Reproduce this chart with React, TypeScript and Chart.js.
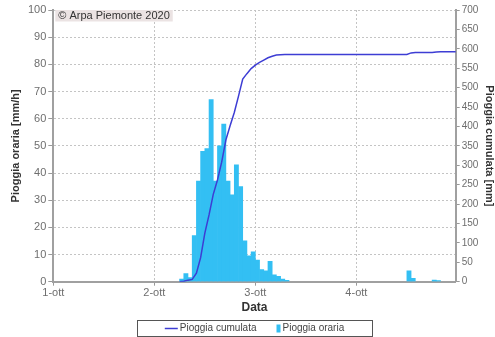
import React, { useEffect, useRef } from 'react';
import { Chart, registerables } from 'chart.js';

Chart.register(...registerables);

// ---- data (hours counted from 1-ott 00:00) ----
const dayTicks = [0, 24, 48, 72];
const dayLabels = ['1-ott', '2-ott', '3-ott', '4-ott'];
const xMax = 95.6;

// hourly rain: hour end time and value [mm/h]
const rainHours = [31, 32, 33, 34, 35, 36, 37, 38, 39, 40, 41, 42, 43, 44, 45, 46, 47, 48, 49, 50, 51, 52, 53, 54, 55, 56, 85, 86, 91, 92];
const rainValues = [1, 3, 1.5, 17, 37, 48, 49, 67, 37, 50, 58, 37, 32, 43, 35, 15, 9.5, 11, 8, 4.5, 4, 7.5, 2.5, 2, 1, 0.5, 4, 1.2, 0.6, 0.4];

// cumulated rain [mm]
const cumHours = [30, 31, 32, 33, 34, 35, 36, 37, 38, 39, 40, 41, 42, 43, 44, 45, 46, 47, 48, 49, 50, 51, 52, 53, 54, 55, 84, 85, 86, 90, 91, 92, 96];
const cumValues = [0, 1, 4, 6, 22, 62, 125, 172, 225, 262, 308, 365, 402, 436, 478, 522, 536, 549, 558, 565, 571, 577, 581, 584, 585, 585.5, 585.5, 589.5, 590.5, 590.5, 591.5, 592.5, 592.5];

const seriesLabels = ['Pioggia cumulata', 'Pioggia oraria'];
const leftTitle = 'Pioggia oraria [mm/h]';
const rightTitle = 'Pioggia cumulata [mm]';
const xTitle = 'Data';
const credit = '\u00A9 Arpa Piemonte 2020';

const FONT = '"Liberation Sans", Arial, sans-serif';
const LINE_COLOR = '#3d3dd4';
const BAR_COLOR = '#33bff3';

const creditPlugin = {
  id: 'creditBox',
  afterDatasetsDraw(chart: any) {
    const { ctx, chartArea } = chart;
    ctx.save();
    ctx.font = `11px ${FONT}`;
    const w = ctx.measureText(credit).width;
    ctx.fillStyle = '#ebe3e3';
    ctx.fillRect(chartArea.left + 2, chartArea.top, w + 6, 11.5);
    ctx.fillStyle = '#333333';
    ctx.textBaseline = 'middle';
    ctx.textAlign = 'left';
    ctx.fillText(credit, chartArea.left + 5, chartArea.top + 5.5);
    ctx.restore();
  },
};

const legendPlugin = {
  id: 'boxLegend',
  afterDraw(chart: any) {
    const { ctx, chartArea } = chart;
    const H = chart.height;
    const cx = (chartArea.left + chartArea.right) / 2;
    const boxW = 235;
    const top = H - 17;
    const bottom = H - 1;
    const cy = (top + bottom) / 2 + 0.5;
    ctx.save();
    ctx.strokeStyle = '#555555';
    ctx.lineWidth = 1;
    ctx.strokeRect(Math.round(cx - boxW / 2) + 0.5, top + 0.5, boxW, bottom - top);
    ctx.font = `10px ${FONT}`;
    const ds = chart.data.datasets;
    const t1 = ds[0].label;
    const t2 = ds[1].label;
    const w1 = ctx.measureText(t1).width;
    const w2 = ctx.measureText(t2).width;
    const sampleW = 13;
    const sqW = 4;
    const gap = 2;
    const between = 20;
    const total = sampleW + gap + w1 + between + sqW + gap + w2;
    let x = cx - total / 2;
    ctx.strokeStyle = LINE_COLOR;
    ctx.lineWidth = 1.5;
    ctx.beginPath();
    ctx.moveTo(x, cy);
    ctx.lineTo(x + sampleW, cy);
    ctx.stroke();
    x += sampleW + gap;
    ctx.fillStyle = '#444444';
    ctx.textBaseline = 'middle';
    ctx.textAlign = 'left';
    ctx.fillText(t1, x, cy);
    x += w1 + between;
    ctx.fillStyle = BAR_COLOR;
    ctx.fillRect(x, cy - 4, sqW, 8);
    x += sqW + gap;
    ctx.fillStyle = '#444444';
    ctx.fillText(t2, x, cy);
    ctx.restore();
  },
};

export default function App() {
  const ref = useRef<HTMLCanvasElement | null>(null);

  useEffect(() => {
    document.body.style.margin = '0';
    const canvas = ref.current;
    if (!canvas) return;

    const lineData = cumHours.map((h, i) => ({ x: h, y: cumValues[i] }));
    const barData = rainHours.map((h, i) => ({ x: h - 0.5, y: rainValues[i] }));

    const gridColor = '#c4c4c4';
    const axisColor = '#a0a0a0';
    const tickColor = '#6e6e6e';

    const chart = new Chart(canvas, {
      type: 'bar',
      data: {
        datasets: [
          {
            type: 'line',
            label: seriesLabels[0],
            data: lineData,
            yAxisID: 'y1',
            borderColor: LINE_COLOR,
            backgroundColor: LINE_COLOR,
            borderWidth: 1.5,
            pointRadius: 0,
            tension: 0,
            order: 0,
          } as any,
          {
            type: 'bar',
            label: seriesLabels[1],
            data: barData,
            yAxisID: 'y',
            backgroundColor: BAR_COLOR,
            borderWidth: 0,
            categoryPercentage: 1,
            barPercentage: 1,
            order: 1,
          } as any,
        ],
      },
      options: {
        responsive: false,
        animation: false,
        devicePixelRatio: 1,
        layout: { padding: { left: 0, right: 0, top: 10, bottom: 21 } },
        plugins: {
          legend: { display: false },
          tooltip: { enabled: false },
        },
        scales: {
          x: {
            type: 'linear',
            min: 0,
            max: xMax,
            offset: false,
            afterBuildTicks: (s: any) => {
              s.ticks = dayTicks.map((v) => ({ value: v }));
            },
            afterFit: (s: any) => {
              s.height = 34.3;
            },
            ticks: {
              color: tickColor,
              font: { family: FONT, size: 11 },
              padding: 1,
              maxRotation: 0,
              autoSkip: false,
              callback: (v: any) => {
                const i = dayTicks.indexOf(Number(v));
                return i >= 0 ? dayLabels[i] : '';
              },
            },
            grid: {
              offset: false,
              color: gridColor,
              lineWidth: 1,
              drawTicks: true,
              tickLength: 4,
              tickColor: '#999999',
              tickWidth: 1,
            },
            border: { display: true, color: axisColor, width: 2, dash: [2, 2] },
            title: {
              display: true,
              text: xTitle,
              color: '#333333',
              font: { family: FONT, size: 12, weight: 'bold' },
              padding: { top: 0, bottom: 1 },
            },
          },
          y: {
            type: 'linear',
            position: 'left',
            min: 0,
            max: 100,
            afterFit: (s: any) => {
              s.width = 53.3;
            },
            ticks: {
              stepSize: 10,
              color: tickColor,
              font: { family: FONT, size: 11 },
              padding: 2,
            },
            grid: {
              color: gridColor,
              lineWidth: 1,
              drawTicks: true,
              tickLength: 5,
              tickColor: '#999999',
            },
            border: { display: true, color: axisColor, width: 2, dash: [2, 2] },
            title: {
              display: true,
              text: leftTitle,
              color: '#333333',
              font: { family: FONT, size: 11, weight: 'bold' },
              padding: { top: 9.5, bottom: 0 },
            },
          },
          y1: {
            type: 'linear',
            position: 'right',
            min: 0,
            max: 700,
            afterFit: (s: any) => {
              s.width = 39.3;
            },
            ticks: {
              stepSize: 50,
              color: tickColor,
              font: { family: FONT, size: 10 },
              padding: 2,
            },
            grid: {
              drawOnChartArea: false,
              drawTicks: true,
              tickLength: 4,
              tickColor: '#999999',
            },
            border: { display: true, color: axisColor, width: 2 },
            title: {
              display: true,
              text: rightTitle,
              color: '#333333',
              font: { family: FONT, size: 11, weight: 'bold', lineHeight: 1 },
              padding: { top: 0, bottom: 0 },
            },
          },
        },
      } as any,
      plugins: [creditPlugin, legendPlugin],
    });

    return () => {
      chart.destroy();
    };
  }, []);

  return (
    <div style={{ position: 'fixed', left: 0, top: 0, width: 495, height: 337, background: '#ffffff' }}>
      <canvas ref={ref} width={495} height={337} style={{ display: 'block', width: 495, height: 337 }} />
    </div>
  );
}
